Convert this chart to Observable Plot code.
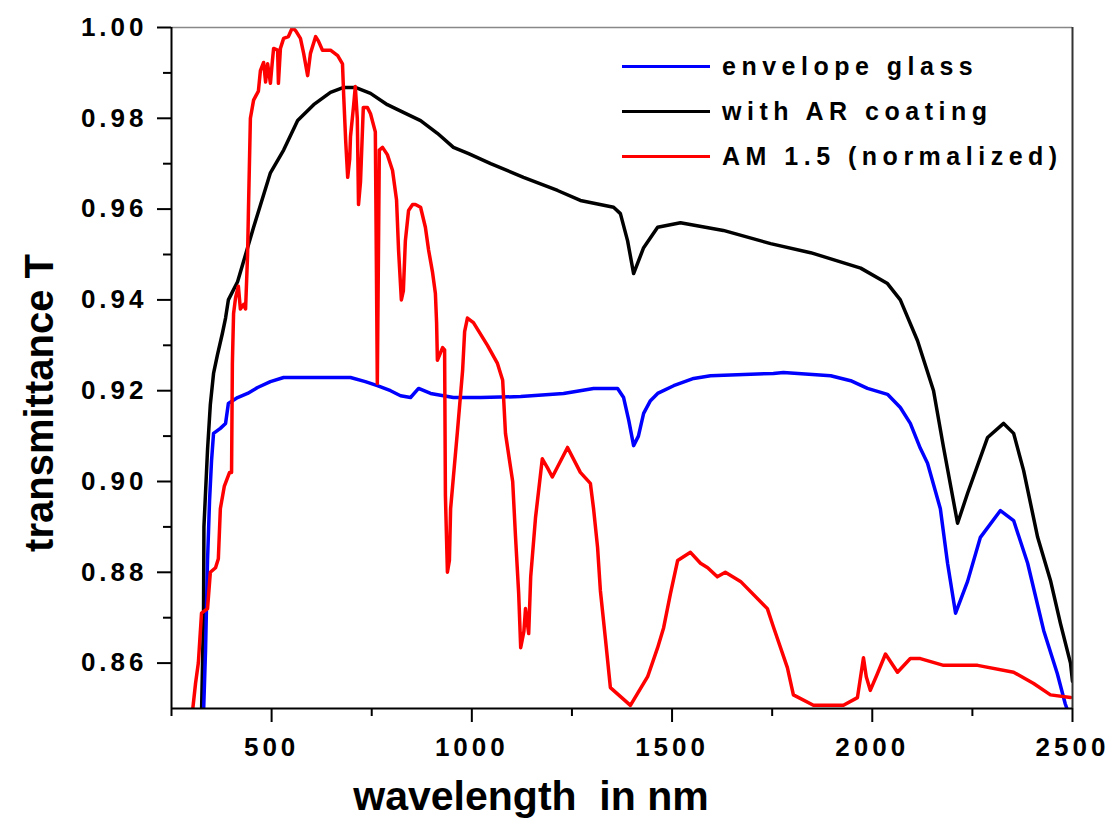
<!DOCTYPE html>
<html>
<head>
<meta charset="utf-8">
<script src="https://cdn.jsdelivr.net/npm/d3@7"></script>
<script src="https://cdn.jsdelivr.net/npm/@observablehq/plot@0.6"></script>
<style>
  html, body { margin: 0; padding: 0; background: #fff; }
  #wrap { position: relative; width: 1113px; height: 835px; font-family: "Liberation Sans", Arial, sans-serif; }
  #wrap svg text { font-family: "Liberation Sans", Arial, sans-serif; }
  g[aria-label="y-axis tick label"] text, g[aria-label="x-axis tick label"] text { letter-spacing: 4px; }
  #legend { position: absolute; left: 622px; top: 44px; }
  .row { display: flex; align-items: center; height: 45px; }
  .sw { width: 88px; height: 3.5px; margin-right: 12px; }
  .lab { font-weight: bold; font-size: 25px; letter-spacing: 5.5px; color: #000; white-space: pre; }
</style>
</head>
<body>
<div id="wrap"><div id="legend"></div></div>
<script>
// ---- series names / colours
const seriesNames = ["envelope glass", "with AR coating", "AM 1.5 (normalized)"];
const seriesColors = ["#0000ff", "#000000", "#ff0000"];

// ---- envelope glass (blue)
const glassWl = [330,335,340,345,350,355,372,385,392,415,440,465,497,530,697,734,764,797,822,847,867,897,954,1022,1122,1229,1304,1364,1379,1392,1404,1416,1429,1446,1464,1504,1554,1596,1753,1778,1896,1946,1988,2038,2070,2095,2120,2138,2170,2188,2208,2238,2270,2320,2353,2388,2428,2462,2482,2490];
const glassT  = [0.849,0.8628,0.8826,0.8958,0.9046,0.9106,0.9117,0.9128,0.9172,0.9185,0.9194,0.9207,0.922,0.9229,0.9229,0.922,0.9211,0.920,0.9189,0.9185,0.9205,0.9194,0.9185,0.9185,0.9187,0.9194,0.9205,0.9205,0.9185,0.9134,0.9079,0.910,0.915,0.9178,0.9194,0.9211,0.9227,0.9233,0.9238,0.924,0.9233,0.9222,0.9205,0.9192,0.9163,0.9128,0.9073,0.904,0.894,0.882,0.871,0.878,0.8877,0.8936,0.8914,0.882,0.8672,0.8577,0.851,0.849];

// ---- with AR coating (black)
const arWl = [325,330,331,340,347,355,365,377,385,392,415,455,497,530,565,605,647,680,709,747,789,829,872,914,954,992,1047,1129,1214,1271,1354,1371,1389,1404,1429,1464,1521,1628,1746,1846,1971,2038,2070,2113,2153,2178,2213,2238,2288,2328,2353,2378,2413,2445,2470,2495,2500];
const arT  = [0.849,0.871,0.890,0.907,0.917,0.9238,0.928,0.9326,0.936,0.940,0.944,0.956,0.968,0.973,0.9795,0.983,0.9857,0.9868,0.9868,0.9855,0.983,0.9813,0.9795,0.9767,0.9736,0.9722,0.970,0.967,0.9641,0.9619,0.9604,0.959,0.953,0.9458,0.9515,0.956,0.957,0.9553,0.9524,0.9504,0.947,0.9436,0.940,0.931,0.920,0.9075,0.8908,0.8974,0.9097,0.9128,0.9106,0.9024,0.8877,0.8782,0.8687,0.860,0.856];

// ---- AM 1.5 normalized (red)
const amWl = [302,310,317,325,340,347,360,367,372,382,395,400,402,405,410,417,422,430,435,440,442,447,455,467,472,480,485,490,497,502,505,515,517,522,530,542,552,560,572,580,590,597,610,617,627,647,665,677,680,685,690,695,697,705,709,714,717,722,729,739,747,759,764,769,777,789,802,812,817,824,829,834,842,852,859,872,884,892,902,909,912,914,927,932,934,939,944,947,954,964,977,982,989,1004,1039,1064,1077,1084,1102,1109,1117,1122,1130,1134,1142,1147,1159,1176,1189,1201,1239,1271,1296,1304,1314,1321,1334,1346,1396,1439,1464,1479,1496,1514,1546,1571,1589,1613,1633,1671,1738,1753,1788,1803,1853,1928,1963,1978,1985,1995,2013,2033,2063,2095,2120,2178,2263,2353,2403,2445,2495];
const amT  = [0.849,0.8555,0.860,0.871,0.872,0.880,0.881,0.883,0.894,0.899,0.902,0.902,0.926,0.937,0.9405,0.943,0.938,0.939,0.938,0.950,0.959,0.980,0.984,0.986,0.9905,0.9923,0.988,0.992,0.9877,0.9927,0.9954,0.995,0.9877,0.9954,0.9976,0.998,1.000,0.9993,0.9976,0.9943,0.9894,0.9943,0.998,0.997,0.995,0.995,0.9938,0.992,0.985,0.975,0.967,0.971,0.976,0.983,0.987,0.980,0.961,0.966,0.9824,0.9824,0.981,0.977,0.9216,0.973,0.9736,0.972,0.9685,0.962,0.951,0.940,0.942,0.953,0.9597,0.961,0.961,0.9604,0.956,0.951,0.946,0.9414,0.935,0.9267,0.9295,0.929,0.897,0.880,0.8826,0.894,0.901,0.911,0.9245,0.933,0.936,0.935,0.930,0.926,0.9223,0.9106,0.900,0.888,0.8753,0.8634,0.867,0.872,0.8665,0.879,0.892,0.905,0.903,0.901,0.9075,0.902,0.8996,0.894,0.8855,0.876,0.865,0.8546,0.8507,0.857,0.8634,0.8678,0.8753,0.8826,0.8844,0.882,0.881,0.879,0.880,0.878,0.872,0.868,0.859,0.853,0.8507,0.8507,0.8524,0.8612,0.857,0.854,0.8577,0.862,0.858,0.861,0.861,0.8595,0.8595,0.858,0.8555,0.853,0.8524];

// ---- axes ticks
const xTicks = [500, 1000, 1500, 2000, 2500];
const xMinor = [250, 750, 1250, 1750, 2250];
const yTicks = [0.86, 0.88, 0.90, 0.92, 0.94, 0.96, 0.98, 1.00];
const yMinor = [0.87, 0.89, 0.91, 0.93, 0.95, 0.97, 0.99];
const xDomain = [250, 2500];
const yDomain = [0.85, 1.00];
const xTitle = "wavelength\u00a0 in nm";
const yTitle = "transmittance T";

const toRows = (wl, t, s) => wl.map((w, i) => ({wl: w, t: t[i], s}));
const glass = toRows(glassWl, glassT, seriesNames[0]);
const ar = toRows(arWl, arT, seriesNames[1]);
const am = toRows(amWl, amT, seriesNames[2]);

const chart = Plot.plot({
  width: 1113,
  height: 835,
  marginLeft: 171,
  marginRight: 41,
  marginTop: 27,
  marginBottom: 127,
  style: {background: "white", fontFamily: "Liberation Sans, Arial, sans-serif", overflow: "visible"},
  x: {domain: xDomain},
  y: {domain: yDomain},
  marks: [
    Plot.line(ar, {x: "wl", y: "t", stroke: seriesColors[1], strokeWidth: 3.5, clip: true}),
    Plot.line(glass, {x: "wl", y: "t", stroke: seriesColors[0], strokeWidth: 3.5, clip: true}),
    Plot.line(am, {x: "wl", y: "t", stroke: seriesColors[2], strokeWidth: 3.5, clip: true}),
    Plot.ruleY([yDomain[1]], {stroke: "#888", strokeWidth: 1.5}),
    Plot.ruleX([xDomain[1]], {stroke: "#333", strokeWidth: 2}),
    Plot.ruleX([xDomain[0]], {stroke: "#000", strokeWidth: 2}),
    Plot.ruleY([yDomain[0]], {stroke: "#000", strokeWidth: 2}),
    Plot.axisX({ticks: xTicks, tickSize: 14, tickPadding: 15, tickFormat: d => String(d), fontSize: 26, fontWeight: "bold", label: null, strokeWidth: 2}),
    Plot.axisX({ticks: xMinor, tickSize: 8, tickFormat: () => "", label: null, strokeWidth: 2}),
    Plot.axisY({ticks: yTicks, tickSize: 14, tickPadding: 10, tickFormat: d3.format(".2f"), fontSize: 26, fontWeight: "bold", label: null, strokeWidth: 2}),
    Plot.axisY({ticks: yMinor, tickSize: 8, tickFormat: () => "", label: null, strokeWidth: 2}),
    Plot.text([yTitle], {frameAnchor: "left", text: d => d, rotate: -90, textAnchor: "middle", lineAnchor: "middle", dx: -131, dy: 35, fontSize: 40, fontWeight: "bold"}),
    Plot.text([xTitle], {frameAnchor: "bottom", text: d => d, textAnchor: "middle", lineAnchor: "middle", dx: -91, dy: 88, fontSize: 41, fontWeight: "bold"})
  ]
});
document.getElementById("wrap").prepend(chart);

const legend = document.getElementById("legend");
seriesNames.forEach((name, i) => {
  const row = document.createElement("div");
  row.className = "row";
  const sw = document.createElement("div");
  sw.className = "sw";
  sw.style.background = seriesColors[i];
  const lab = document.createElement("div");
  lab.className = "lab";
  lab.textContent = name;
  row.appendChild(sw);
  row.appendChild(lab);
  legend.appendChild(row);
});
</script>
</body>
</html>
